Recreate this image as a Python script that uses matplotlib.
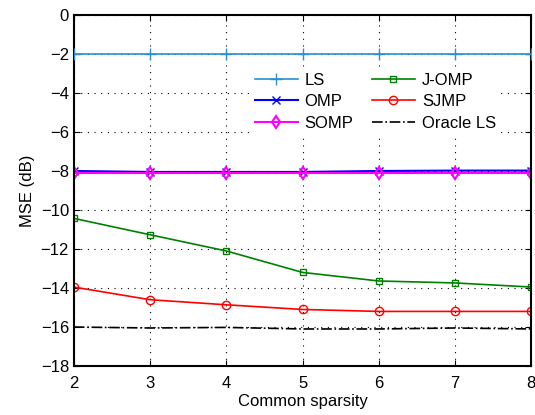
import numpy as np
import matplotlib
matplotlib.use("Agg")
import matplotlib.pyplot as plt

sparsity = [2, 3, 4, 5, 6, 7, 8]
ls = [-2.0, -2.0, -2.0, -2.0, -2.0, -2.0, -2.0]
omp = [-8.0, -8.05, -8.05, -8.05, -8.0, -7.98, -7.98]
somp = [-8.1, -8.1, -8.1, -8.1, -8.1, -8.1, -8.1]
jomp = [-10.43, -11.27, -12.1, -13.2, -13.64, -13.74, -13.95]
sjmp = [-13.95, -14.6, -14.86, -15.1, -15.2, -15.2, -15.2]
oracle = [-16.0, -16.05, -16.02, -16.1, -16.1, -16.05, -16.1]

plt.rcParams["font.family"] = ["Liberation Sans", "DejaVu Sans"]

fig = plt.figure(figsize=(5.35, 4.15), dpi=100)
ax = fig.add_axes([0.138, 0.118, 0.855, 0.846])

# LS line sits above the legend box, as in the original
ax.plot(sparsity, ls, color="#2a8fd4", marker="+", markersize=8, lw=1.2, label="LS", zorder=6)
ax.plot(sparsity, omp, color="#0000ff", marker="x", markersize=6, lw=1.5, label="OMP")
ax.plot(sparsity, somp, color="#ff00ff", marker="d", markersize=6, mfc="none", mew=1.5, lw=1.5, label="SOMP")
ax.plot(sparsity, jomp, color="#008000", marker="s", markersize=5, mfc="none", lw=1.2, label="J-OMP")
ax.plot(sparsity, sjmp, color="#ff0000", marker="o", markersize=6, mfc="none", lw=1.2, label="SJMP")
ax.plot(sparsity, oracle, color="black", ls="-.", lw=1.2, label="Oracle LS")

ax.set_xlim(2, 8)
ax.set_ylim(-18, 0)
ax.set_xticks(sparsity)
ax.set_yticks(np.arange(-18, 1, 2))
ax.set_yticklabels([str(v).replace("-", "\u2212") for v in range(-18, 1, 2)])
ax.grid(True, color="black", ls=(0, (1, 5)), lw=0.8)
ax.tick_params(direction="in", length=4, labelsize=12, top=True, right=True)
ax.tick_params(axis="x", pad=7)
for s in ax.spines.values():
    s.set_linewidth(1.5)

ax.set_xlabel("Common sparsity", fontsize=12, labelpad=2)
ax.set_ylabel("MSE (dB)", fontsize=12)

leg = ax.legend(ncol=2, loc="upper left", bbox_to_anchor=(0.366, 0.874), frameon=True,
                fontsize=12, handlelength=2.6, handletextpad=0.4, columnspacing=1.1,
                labelspacing=0.4, borderpad=0.3)
leg.get_frame().set_edgecolor("none")
leg.get_frame().set_facecolor("white")
leg.get_frame().set_alpha(1)

fig.savefig("out.png", dpi=100)
